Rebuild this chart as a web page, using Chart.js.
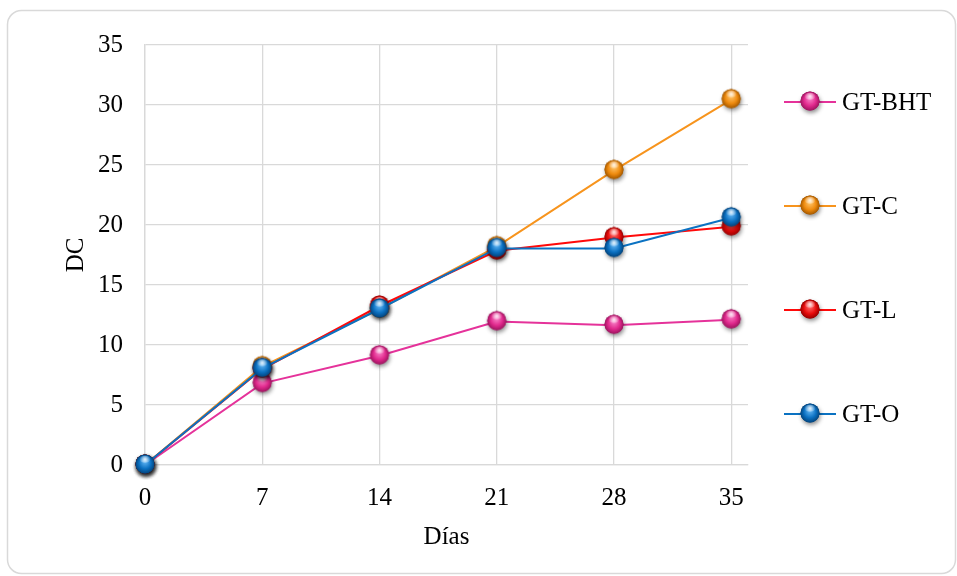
<!DOCTYPE html>
<html>
<head>
<meta charset="utf-8">
<script src="https://cdn.jsdelivr.net/npm/chart.js@4/dist/chart.umd.min.js"></script>
<style>
  html, body { margin: 0; padding: 0; background: #ffffff; }
  #wrap { width: 957px; height: 576px; }
</style>
</head>
<body>
<div id="wrap"><canvas id="c" width="957" height="576"></canvas></div>
<script>
// Sampling days and measured DC for each treatment
const days = [0, 7, 14, 21, 28, 35];
const gtBHT = [0, 6.8, 9.1, 11.95, 11.65, 12.1];
const gtC   = [0, 8.2, 13.0, 18.2, 24.55, 30.45];
const gtL   = [0, 8.0, 13.25, 17.85, 18.95, 19.85];
const gtO   = [0, 8.05, 13.0, 18.05, 18.05, 20.6];
const seriesNames = ['GT-BHT', 'GT-C', 'GT-L', 'GT-O'];
const xTickValues = [0, 7, 14, 21, 28, 35];
const yTickValues = [0, 5, 10, 15, 20, 25, 30, 35];

const FONT = '"Liberation Serif", "Times New Roman", serif';
const GRID = '#D9D9D9';

// Glossy sphere sprite used as the point marker
function sphere(base, light, dark) {
  const c = document.createElement('canvas');
  c.width = 30; c.height = 30;
  const g = c.getContext('2d');
  const cx = 15, cy = 14, r = 9.5;
  g.save();
  g.shadowColor = 'rgba(0,0,0,0.45)';
  g.shadowBlur = 4;
  g.shadowOffsetX = 1;
  g.shadowOffsetY = 2.5;
  g.beginPath(); g.arc(cx, cy, r, 0, Math.PI * 2);
  g.fillStyle = dark; g.fill();
  g.restore();
  const grad = g.createRadialGradient(cx, cy - r * 0.3, r * 0.1, cx, cy, r);
  grad.addColorStop(0, light);
  grad.addColorStop(0.6, base);
  grad.addColorStop(1, dark);
  g.beginPath(); g.arc(cx, cy, r, 0, Math.PI * 2);
  g.fillStyle = grad; g.fill();
  const hy = cy - r * 0.5;
  const hg = g.createRadialGradient(cx, hy, 0, cx, hy, r * 0.6);
  hg.addColorStop(0, 'rgba(255,255,255,0.85)');
  hg.addColorStop(1, 'rgba(255,255,255,0)');
  g.beginPath(); g.ellipse(cx, hy, r * 0.6, r * 0.38, 0, 0, Math.PI * 2);
  g.fillStyle = hg; g.fill();
  return c;
}

const styles = [
  { line: '#E5329A', marker: sphere('#E0288C', '#F77CC4', '#9E1560') },
  { line: '#F7941D', marker: sphere('#EE8A0E', '#FFC266', '#A65A00') },
  { line: '#FF0A0A', marker: sphere('#E80C0C', '#FF6A6A', '#9A0000') },
  { line: '#0B72C2', marker: sphere('#0A6FC0', '#5DB2F2', '#03457E') }
];
const values = [gtBHT, gtC, gtL, gtO];

const datasets = values.map((vals, i) => ({
  label: seriesNames[i],
  data: days.map((d, k) => ({ x: d, y: vals[k] })),
  borderColor: styles[i].line,
  backgroundColor: styles[i].line,
  borderWidth: 2,
  pointStyle: styles[i].marker,
  pointRadius: 10,
  pointHoverRadius: 10,
  tension: 0,
  clip: false,
  order: values.length - i
}));

// Rounded outer frame
const framePlugin = {
  id: 'frame',
  beforeDraw(chart) {
    const ctx = chart.ctx;
    ctx.save();
    ctx.strokeStyle = GRID;
    ctx.lineWidth = 1.5;
    ctx.beginPath();
    ctx.roundRect(7.5, 10.5, 948, 563, 14);
    ctx.stroke();
    ctx.restore();
  }
};

// Legend: short line with the sphere marker and the series name
const legendPlugin = {
  id: 'sideLegend',
  afterDraw(chart) {
    const ctx = chart.ctx;
    const rows = [102, 206, 310, 414];
    ctx.save();
    chart.data.datasets.forEach((ds, i) => {
      const y = rows[i];
      ctx.strokeStyle = ds.borderColor;
      ctx.lineWidth = 2;
      ctx.beginPath(); ctx.moveTo(784, y); ctx.lineTo(836, y); ctx.stroke();
      const m = ds.pointStyle;
      ctx.drawImage(m, 810 - m.width / 2, y - m.height / 2);
      ctx.fillStyle = '#000';
      ctx.font = '25px ' + FONT;
      ctx.textAlign = 'left';
      ctx.textBaseline = 'middle';
      ctx.fillText(ds.label, 842, y + 1);
    });
    ctx.restore();
  }
};

new Chart(document.getElementById('c'), {
  type: 'line',
  data: { datasets },
  options: {
    responsive: false,
    devicePixelRatio: 1,
    animation: false,
    events: [],
    layout: { padding: { left: 0, top: 45, right: 209, bottom: 0 } },
    plugins: { legend: { display: false }, tooltip: { enabled: false } },
    scales: {
      x: {
        type: 'linear',
        min: 0,
        max: 36,
        afterBuildTicks(scale) { scale.ticks = xTickValues.map(v => ({ value: v })); },
        afterFit(scale) { scale.height = 111; },
        grid: { color: GRID, lineWidth: 1.3, drawTicks: false },
        border: { color: GRID, width: 1.3 },
        ticks: { color: '#000', font: { family: FONT, size: 25 }, padding: 18, maxRotation: 0, autoSkip: false },
        title: { display: true, text: 'Días', color: '#000', font: { family: FONT, size: 25 }, padding: { top: 0, bottom: 24 } }
      },
      y: {
        min: 0,
        max: 35,
        afterBuildTicks(scale) { scale.ticks = yTickValues.map(v => ({ value: v })); },
        afterFit(scale) { scale.width = 145; },
        grid: { color: GRID, lineWidth: 1.3, drawTicks: false },
        border: { color: GRID, width: 1.3 },
        ticks: { color: '#000', font: { family: FONT, size: 25 }, padding: 22, autoSkip: false },
        title: { display: true, text: 'DC', color: '#000', font: { family: FONT, size: 25 }, padding: { top: 61, bottom: 0 } }
      }
    }
  },
  plugins: [framePlugin, legendPlugin]
});
</script>
</body>
</html>
